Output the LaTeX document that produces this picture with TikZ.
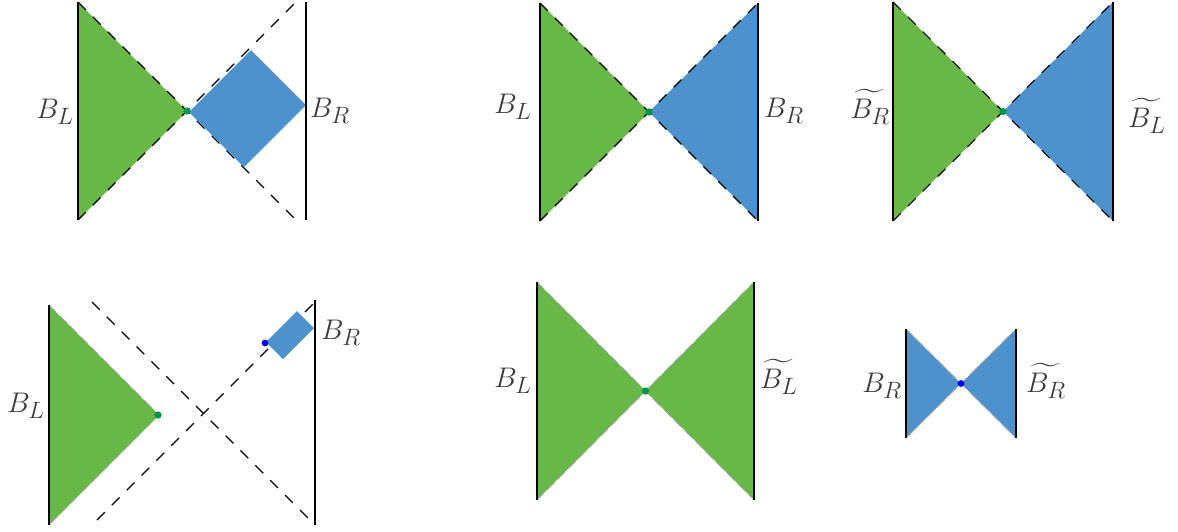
\documentclass[tikz,border=0pt]{standalone}
\usepackage{amsmath}
\usepackage{graphicx}
\definecolor{grn}{HTML}{67B846}
\definecolor{blu}{HTML}{4D91CD}
\definecolor{gdot}{HTML}{00944E}
\definecolor{bdot}{HTML}{0000F0}
\definecolor{labc}{HTML}{3A3A3A}
\newcommand{\biglab}[1]{\scalebox{1.14}{$#1$}}
\begin{document}
\begin{tikzpicture}[x=1pt,y=-1pt,
  wall/.style={black,line width=1.3pt},
  hz/.style={black,line width=1.1pt,dash pattern=on 11pt off 10pt},
  ghz/.style={gray!70,line width=1pt,dash pattern=on 10pt off 5pt},
  gfill/.style={fill=grn},
  bfill/.style={fill=blu},
  gd/.style={fill=gdot},
  bd/.style={fill=bdot},
  lab/.style={font=\Huge,text=labc,inner sep=0pt}]
\useasboundingbox (0,0) rectangle (1178,531);

% ---------- Panel 1 ----------
\fill[gfill] (78,2) -- (187,111) -- (78,220) -- cycle;
\draw[hz] (78,2) -- (296,220);
\draw[hz] (78,220) -- (296,2);
\fill[bfill] (189,112) -- (251,50) -- (306,105) -- (244,167) -- cycle;
\draw[wall] (78,2) -- (78,220);
\draw[wall] (306,2) -- (306,220);
\fill[gd] (187,111) circle (3.6pt);
\node[lab,anchor=base east] (p1l) at (74,118) {\biglab{B_L}};
\node[lab,anchor=base west] (p1r) at (310,117) {\biglab{B_R}};

% ---------- Panel 2 ----------
\fill[gfill] (540,3) -- (649,112) -- (540,221) -- cycle;
\fill[bfill] (758,3) -- (649,112) -- (758,221) -- cycle;
\draw[hz] (540,3) -- (758,221);
\draw[hz] (540,221) -- (758,3);
\draw[wall] (540,3) -- (540,221);
\draw[wall] (758,3) -- (758,221);
\fill[gd] (649,112) circle (3.6pt);
\node[lab,anchor=base east] (p2l) at (532,113) {\biglab{B_L}};
\node[lab,anchor=base west] (p2r) at (764,117) {\biglab{B_R}};

% ---------- Panel 3 ----------
\fill[gfill] (893,2) -- (1003,111.5) -- (893,221) -- cycle;
\fill[bfill] (1113,2) -- (1003,111.5) -- (1113,221) -- cycle;
\draw[hz] (893,2) -- (1113,221);
\draw[hz] (893,221) -- (1113,2);
\draw[wall] (893,2) -- (893,221);
\draw[wall] (1113,2) -- (1113,221);
\fill[gd] (1003,111.5) circle (3.6pt);
\node[lab,anchor=base east] (p3l) at (890,118) {\biglab{\widetilde{B_R}}};
\node[lab,anchor=base west] (p3r) at (1128,127) {\biglab{\widetilde{B_L}}};

% ---------- Panel 4 ----------
\fill[gfill] (49,305) -- (159,415) -- (49,525) -- cycle;
\draw[ghz] (49,305) -- (159,415) -- (49,525);
\draw[hz] (92,302) -- (310,520);
\draw[hz] (97,520) -- (315,302);
\fill[bfill] (266,342) -- (297,311) -- (314,328) -- (283,359) -- cycle;
\draw[wall] (49,305) -- (49,525);
\draw[wall] (315,300) -- (315,525);
\fill[gd] (158,415) circle (3.6pt);
\fill[bd] (265,343) circle (3.4pt);
\node[lab,anchor=base east] (p4l) at (45,412) {\biglab{B_L}};
\node[lab,anchor=base west] (p4r) at (321,339) {\biglab{B_R}};

% ---------- Panel 5 ----------
\fill[gfill] (537,282) -- (645.5,391) -- (537,500) -- cycle;
\fill[gfill] (754,282) -- (645.5,391) -- (754,500) -- cycle;
\draw[ghz] (537,282) -- (754,500);
\draw[ghz] (537,500) -- (754,282);
\draw[wall] (537,282) -- (537,500);
\draw[wall] (754,282) -- (754,500);
\fill[gd] (645.5,391) circle (3.6pt);
\node[lab,anchor=base east] (p5l) at (532,387) {\biglab{B_L}};
\node[lab,anchor=base west] (p5r) at (760,388) {\biglab{\widetilde{B_L}}};

% ---------- Panel 6 ----------
\fill[bfill] (906,329) -- (961,383.5) -- (906,438) -- cycle;
\fill[bfill] (1016,329) -- (961,383.5) -- (1016,438) -- cycle;
\draw[ghz] (906,329) -- (1016,438);
\draw[ghz] (906,438) -- (1016,329);
\draw[wall] (906,329) -- (906,438);
\draw[wall] (1016,329) -- (1016,438);
\fill[bd] (961,383.5) circle (3.4pt);
\node[lab,anchor=base east] (p6l) at (902,392) {\biglab{B_R}};
\node[lab,anchor=base west] (p6r) at (1026,392) {\biglab{\widetilde{B_R}}};
\end{tikzpicture}
\end{document}
